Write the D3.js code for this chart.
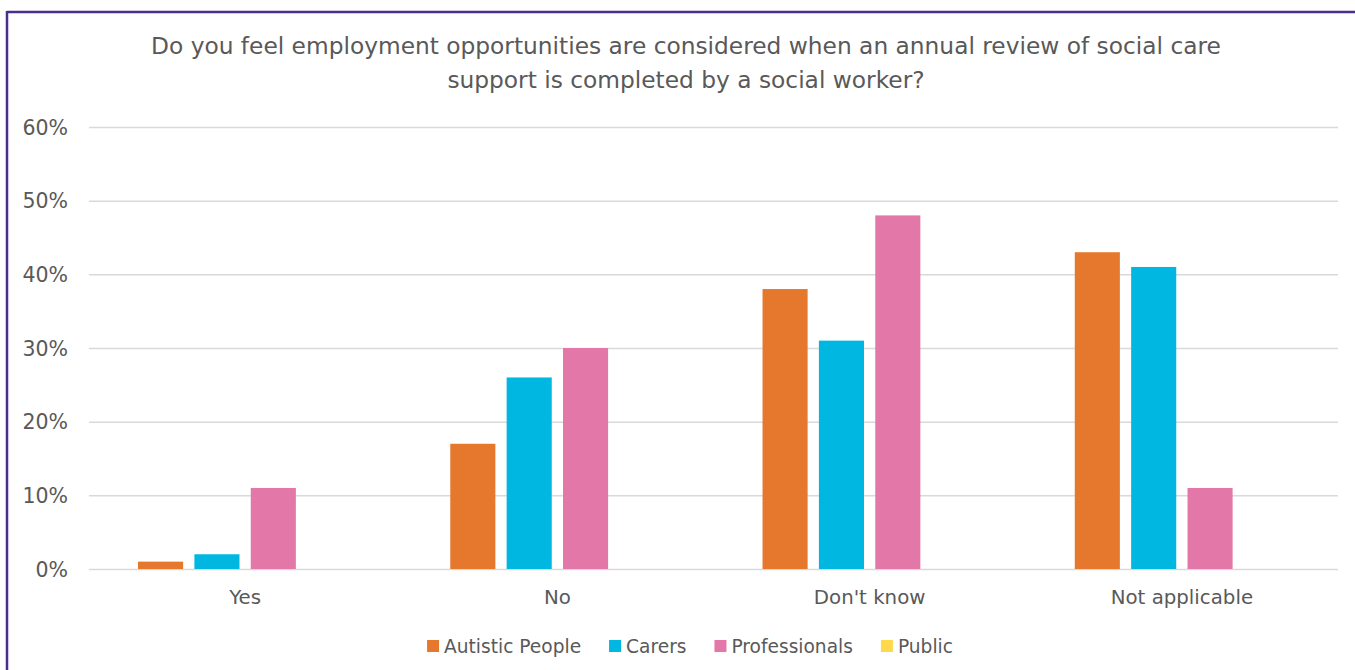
<!DOCTYPE html>
<html><head><meta charset="utf-8">
<script src="https://cdn.jsdelivr.net/npm/d3@7"></script>
<style>body{margin:0;background:#fff;} svg{display:block;} text{font-family:"DejaVu Sans", sans-serif;}</style>
</head><body><svg id="c" width="1355" height="670"></svg>
<script>
const categories = ["Yes", "No", "Don't know", "Not applicable"];
const series = ["Autistic People", "Carers", "Professionals", "Public"];
const autistic = [1, 17, 38, 43];
const carers = [2, 26, 31, 41];
const professionals = [11, 30, 48, 11];
const publicVals = [0, 0, 0, 0];
const yTicks = [0, 10, 20, 30, 40, 50, 60];
const titleLines = ["Do you feel employment opportunities are considered when an annual review of social care", "support is completed by a social worker?"];
const colors = ["#E5782C", "#00B7E1", "#E377A7", "#FFD84C"];

const values = [autistic, carers, professionals, publicVals];
const svg = d3.select("#c");
const W = 1355, H = 670;
const pL = 89, pR = 1338, pT = 127, pB = 569;
const FF = "'DejaVu Sans', sans-serif";

// frame
svg.append("line").attr("x1", 7).attr("x2", W).attr("y1", 12).attr("y2", 12).attr("stroke", "#4B2E8A").attr("stroke-width", 2.5);
svg.append("line").attr("x1", 7).attr("x2", 7).attr("y1", 11).attr("y2", H).attr("stroke", "#4B2E8A").attr("stroke-width", 2.5);

const y = d3.scaleLinear().domain([0, 60]).range([pB, pT]);
const x0 = d3.scaleBand().domain(categories).range([pL, pR]).padding(0);
const bw = x0.bandwidth();
const x1 = d3.scaleBand().domain(series).range([bw * 0.157, bw * 0.843]).paddingInner(0.2).paddingOuter(0);

// gridlines
const yAxis = d3.axisLeft(y).tickValues(yTicks).tickSize(-(pR - pL)).tickFormat(d => d + "%");
const gy = svg.append("g").attr("transform", `translate(${pL},0)`).call(yAxis);
gy.select(".domain").remove();
gy.selectAll(".tick line").attr("stroke", "#D9D9D9").attr("stroke-width", 1.5);
gy.selectAll(".tick text").attr("x", -21).attr("fill", "#595959").attr("font-size", 20.5).attr("dy", "0.35em").attr("font-family", FF);

// bars
const groups = svg.append("g").selectAll("g").data(categories).join("g")
  .attr("transform", d => `translate(${x0(d)},0)`);
groups.selectAll("rect").data((c, i) => series.map((s, j) => ({s, j, v: values[j][i]})))
  .join("rect")
  .attr("x", d => x1(d.s)).attr("width", x1.bandwidth())
  .attr("y", d => y(d.v)).attr("height", d => y(0) - y(d.v))
  .attr("fill", d => colors[d.j]);

// x axis labels
const xAxis = d3.axisBottom(x0).tickSize(0).tickPadding(0);
const gx = svg.append("g").attr("transform", `translate(0,${pB})`).call(xAxis);
gx.select(".domain").remove();
gx.selectAll(".tick text").attr("y", 28).attr("dy", "0.35em").attr("fill", "#595959").attr("font-size", 19.8).attr("font-family", FF);

// title
svg.append("text").attr("text-anchor", "middle").attr("fill", "#595959").attr("font-size", 23.3)
  .selectAll("tspan").data(titleLines).join("tspan")
  .attr("x", 686).attr("y", (d, i) => 54 + i * 34).text(d => d);

// legend (laid out from measured text widths)
const leg = svg.append("g");
const items = leg.selectAll("g").data(series).join("g");
items.append("rect").attr("x", 0).attr("y", -6).attr("width", 12).attr("height", 12).attr("fill", (d, i) => colors[i]);
items.append("text").attr("x", 17).attr("dy", "0.35em").attr("fill", "#595959").attr("font-size", 18.6).text(d => d);
const gap = 28;
let cx = 0;
items.each(function () {
  const g = d3.select(this);
  g.attr("transform", `translate(${cx},0)`);
  cx += 17 + g.select("text").node().getComputedTextLength() + gap;
});
const total = cx - gap;
leg.attr("transform", `translate(${690 - total / 2},646)`);
</script></body></html>
